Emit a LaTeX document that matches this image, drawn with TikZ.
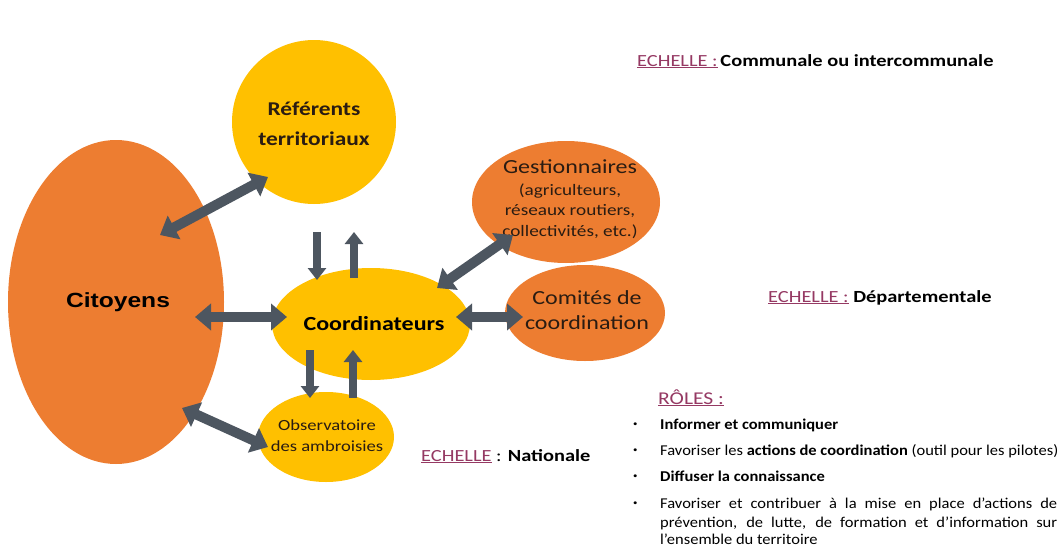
\documentclass[tikz,border=0pt]{standalone}
\usepackage{fontspec}
\setmainfont{Carlito}[FakeStretch=1.2]
\newfontfamily\itm{Carlito}[FakeStretch=1.1]
\newfontfamily\arl{Liberation Sans}[FakeStretch=1.2]
\usetikzlibrary{shapes.geometric,arrows.meta}
\definecolor{orng}{HTML}{ED7D31}
\definecolor{yel}{HTML}{FFC000}
\definecolor{arr}{HTML}{4D5660}
\definecolor{plum}{HTML}{953963}
\definecolor{txt}{HTML}{2A1C12}
\newcommand{\fs}[2]{\fontsize{#1}{#2}\selectfont}
\newcommand{\bul}{\makebox[27pt][l]{\raisebox{2.5pt}{\fs{8}{8}•}}}
\begin{document}
\begin{tikzpicture}[x=1pt,y=-1pt,
  blob/.style={ellipse, inner sep=0pt, draw=none},
  lbl/.style={inner sep=0pt, text=txt, align=center},
  dbl/.style={draw=arr, line width=10pt, {Triangle[length=16pt,width=26pt]}-{Triangle[length=16pt,width=26pt]}},
  sgl/.style={draw=arr, line width=8pt, -{Triangle[length=12pt,width=18pt]}},
  ech/.style={anchor=base west, inner sep=0pt, text=black},
  item/.style={anchor=base west, inner sep=0pt, text=black, font=\itm\fs{15}{18}}
]
\useasboundingbox (0,0) rectangle (1063,546);
\fill[white] (0,0) rectangle (1063,546);

% ellipses
\node[blob, fill=orng, minimum width=216pt, minimum height=324pt] (cit) at (116,302) {};
\node[blob, fill=yel, minimum width=164pt, minimum height=164pt] (ref) at (314,122) {};
\node[blob, fill=orng, minimum width=188pt, minimum height=122pt] (ges) at (566,202) {};
\node[blob, fill=orng, minimum width=160pt, minimum height=96pt] (com) at (585,313) {};
\node[blob, fill=yel, minimum width=198pt, minimum height=112pt] (coo) at (371,324) {};
\node[blob, fill=yel, minimum width=136pt, minimum height=90pt] (obs) at (326,437) {};

% texts in ellipses
\node[lbl, text=black, font=\arl\bfseries\fs{20.5}{24}] (citT) at (118,302) {Citoyens};
\node[lbl, font=\bfseries\fs{19.5}{30}] (refT) at (314,124) {Référents\\territoriaux};
\node[lbl, font=\fs{16}{20.5}] (gesT) at (570,199) {\fs{20}{24}Gestionnaires\\[1pt](agriculteurs,\\réseaux routiers,\\collectivités, etc.)};
\node[lbl, font=\fs{20}{25}] (comT) at (587,310) {Comités de\\coordination};
\node[lbl, text=black, font=\bfseries\fs{20}{24}] (cooT) at (374,324) {Coordinateurs};
\node[lbl, font=\fs{15.5}{21}] (obsT) at (327,436) {Observatoire\\des ambroisies};

% arrow end points
\coordinate (a1) at (160,235); \coordinate (b1) at (268,177);
\coordinate (a2) at (195,317); \coordinate (b2) at (287,317);
\coordinate (a3) at (317,232); \coordinate (b3) at (317,280);
\coordinate (a4) at (354,278); \coordinate (b4) at (354,232);
\coordinate (a5) at (437,288); \coordinate (b5) at (513,235);
\coordinate (a6) at (456,317); \coordinate (b6) at (523,317);
\coordinate (a7) at (310,350); \coordinate (b7) at (310,398);
\coordinate (a8) at (353,398); \coordinate (b8) at (353,350);
\coordinate (a9) at (182,408); \coordinate (b9) at (268,447);

\draw[dbl] (a1) -- (b1);
\draw[dbl] (a2) -- (b2);
\draw[sgl] (a3) -- (b3);
\draw[sgl] (a4) -- (b4);
\draw[dbl] (a5) -- (b5);
\draw[dbl] (a6) -- (b6);
\draw[sgl] (a7) -- (b7);
\draw[sgl] (a8) -- (b8);
\draw[dbl] (a9) -- (b9);

% scale labels
\node[ech] (e1) at (637,66) {\fs{17}{20}\textcolor{plum}{\underline{ECHELLE :}}\,\textbf{Communale ou intercommunale}};
\node[ech] (e2) at (768,302) {\fs{17}{20}\textcolor{plum}{\underline{ECHELLE :}} \textbf{Départementale}};
\node[ech] (e3) at (421,461) {\fs{17}{20}\textcolor{plum}{\underline{ECHELLE}} : \textbf{Nationale}};

% roles
\node[ech] (roles) at (658,404) {\fs{18}{22}\textcolor{plum}{\underline{RÔLES :}}};
\node[item] (i1) at (633,429) {\bul\textbf{Informer et communiquer}};
\node[item] (i2) at (633,455) {\bul Favoriser les \textbf{actions de coordination} (outil pour les pilotes)};
\node[item] (i3) at (633,481) {\bul\textbf{Diffuser la connaissance}};
\node[item] (i4) at (633,508) {\bul\makebox[397pt][s]{Favoriser et contribuer à la mise en place d’actions de}};
\node[item] (i4b) at (660,527) {\makebox[397pt][s]{prévention, de lutte, de formation et d’information sur}};
\node[item] (i4c) at (660,544) {l’ensemble du territoire};
\end{tikzpicture}
\end{document}
